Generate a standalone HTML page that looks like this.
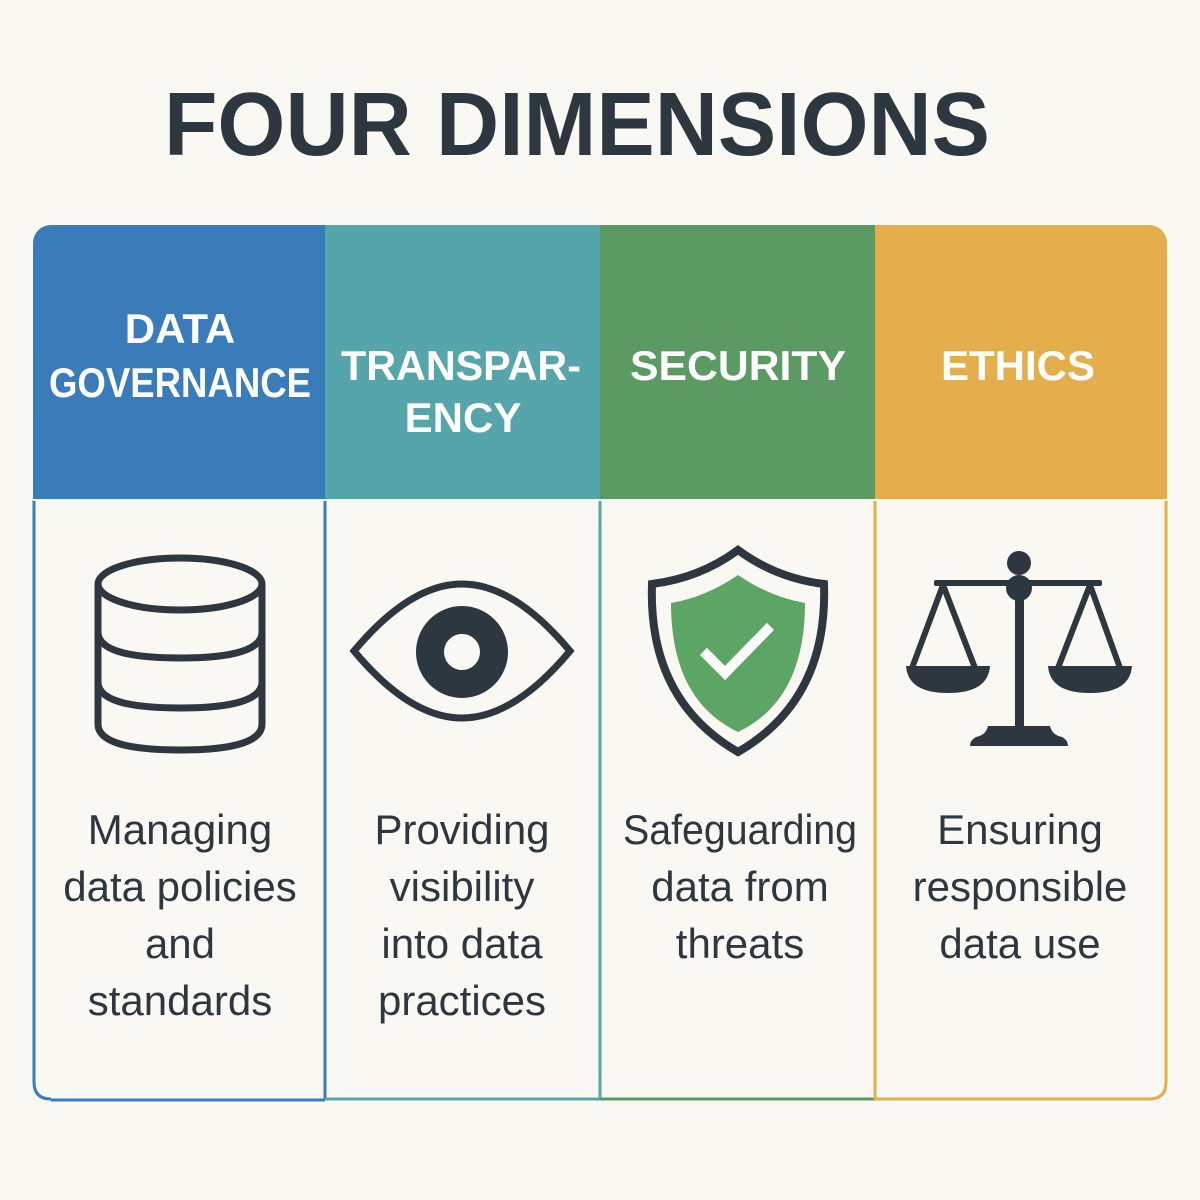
<!DOCTYPE html>
<html><head><meta charset="utf-8"><style>
html,body{margin:0;padding:0;background:#faf8f3;}
svg{display:block;}
text{font-family:"Liberation Sans",sans-serif;}
</style></head><body>
<svg width="1200" height="1200" viewBox="0 0 1200 1200" xmlns="http://www.w3.org/2000/svg">
<rect width="1200" height="1200" fill="#faf8f3"/>
<text x="577" y="155" text-anchor="middle" font-size="90" font-weight="bold" fill="#2d3740" textLength="826" lengthAdjust="spacingAndGlyphs">FOUR DIMENSIONS</text>
<defs><clipPath id="c"><rect x="33" y="225" width="1134" height="876" rx="18"/></clipPath></defs>
<g clip-path="url(#c)">
<rect x="33" y="225" width="1134" height="876" fill="#faf8f3"/>
<rect x="33" y="225" width="292" height="275" fill="#3a7cb9"/>
<rect x="325" y="225" width="275" height="275" fill="#55a5ab"/>
<rect x="600" y="225" width="275" height="275" fill="#5b9a62"/>
<rect x="875" y="225" width="292" height="275" fill="#e3ae4b"/>
</g>
<path d="M51 1100 H325" stroke="#3a7cb9" stroke-width="3"/>
<path d="M34 500 V1082 Q34 1099 51 1099" fill="none" stroke="#3a7cb9" stroke-width="3"/>
<line x1="325" y1="500" x2="325" y2="1100" stroke="#3a7cb9" stroke-width="3"/>
<line x1="325" y1="1099" x2="600" y2="1099" stroke="#55a5ab" stroke-width="3"/>
<line x1="600" y1="500" x2="600" y2="1100" stroke="#55a5ab" stroke-width="3"/>
<line x1="600" y1="1099" x2="875" y2="1099" stroke="#5b9a62" stroke-width="3"/>
<line x1="875" y1="500" x2="875" y2="1100" stroke="#e3ae4b" stroke-width="3"/>
<path d="M875 1099 H1149 Q1166 1099 1166 1082 V500" fill="none" stroke="#e3ae4b" stroke-width="3"/>
<line x1="33" y1="500" x2="1167" y2="500" stroke="#faf8f3" stroke-width="2"/>

<g font-size="42" font-weight="bold" fill="#fff" text-anchor="middle">
<text x="180" y="343">DATA</text>
<text x="180" y="397" textLength="262" lengthAdjust="spacingAndGlyphs">GOVERNANCE</text>
<text x="461" y="380" textLength="240" lengthAdjust="spacingAndGlyphs">TRANSPAR-</text>
<text x="463" y="432">ENCY</text>
<text x="738" y="380" textLength="216" lengthAdjust="spacingAndGlyphs">SECURITY</text>
<text x="1018" y="380">ETHICS</text>
</g>

<g fill="none" stroke="#2d3740" stroke-width="7">
<ellipse cx="180" cy="584" rx="82" ry="26"/>
<path d="M98 584 V724 Q98 750 180 750 Q262 750 262 724 V584"/>
<path d="M98 632 Q98 658 180 658 Q262 658 262 632"/>
<path d="M98 682 Q98 708 180 708 Q262 708 262 682"/>
</g>
<path d="M354 651 Q410 584 462 584 Q514 584 570 651 Q514 718 462 718 Q410 718 354 651 Z" fill="none" stroke="#2d3740" stroke-width="7"/>
<circle cx="462" cy="652" r="32" fill="none" stroke="#2d3740" stroke-width="28"/>
<path d="M738 550 Q700 578 652 584 Q648 700 738 752 Q828 700 824 584 Q776 578 738 550 Z" fill="none" stroke="#2d3740" stroke-width="8"/>
<path d="M738 575 Q706 597 671 603 Q671 700 738 732 Q805 700 805 603 Q770 597 738 575 Z" fill="#5ca565"/>
<path d="M707 655 L725 673 L767 630" fill="none" stroke="#fff" stroke-width="10" stroke-linecap="square"/>
<g fill="#2d3740" stroke="#2d3740">
<circle cx="1019" cy="563" r="12" stroke="none"/>
<circle cx="1019" cy="588" r="13" stroke="none"/>
<rect x="934" y="580" width="168" height="6" rx="2" stroke="none"/>
<rect x="1015" y="588" width="9" height="145" stroke="none"/>
<path d="M943 585 L912 668 M943 585 L975 668 M1090 585 L1058 668 M1090 585 L1120 668" fill="none" stroke-width="6"/>
<path d="M906 666 H990 Q988 693 948 693 Q908 693 906 666 Z" stroke="none"/>
<path d="M1048 666 H1132 Q1130 693 1090 693 Q1050 693 1048 666 Z" stroke="none"/>
<path d="M988 726 H1050 Q1052 735 1062 737 Q1068 740 1068 746 H970 Q970 740 976 737 Q986 735 988 726 Z" stroke="none"/>
</g>

<g font-size="42" fill="#2d3740" text-anchor="middle">
<text x="180" y="844">Managing</text>
<text x="180" y="901">data policies</text>
<text x="180" y="958">and</text>
<text x="180" y="1015">standards</text>
<text x="462" y="844">Providing</text>
<text x="462" y="901">visibility</text>
<text x="462" y="958">into data</text>
<text x="462" y="1015">practices</text>
<text x="740" y="844" textLength="234" lengthAdjust="spacingAndGlyphs">Safeguarding</text>
<text x="740" y="901">data from</text>
<text x="740" y="958">threats</text>
<text x="1020" y="844">Ensuring</text>
<text x="1020" y="901">responsible</text>
<text x="1020" y="958">data use</text>
</g>
</svg>
</body></html>
